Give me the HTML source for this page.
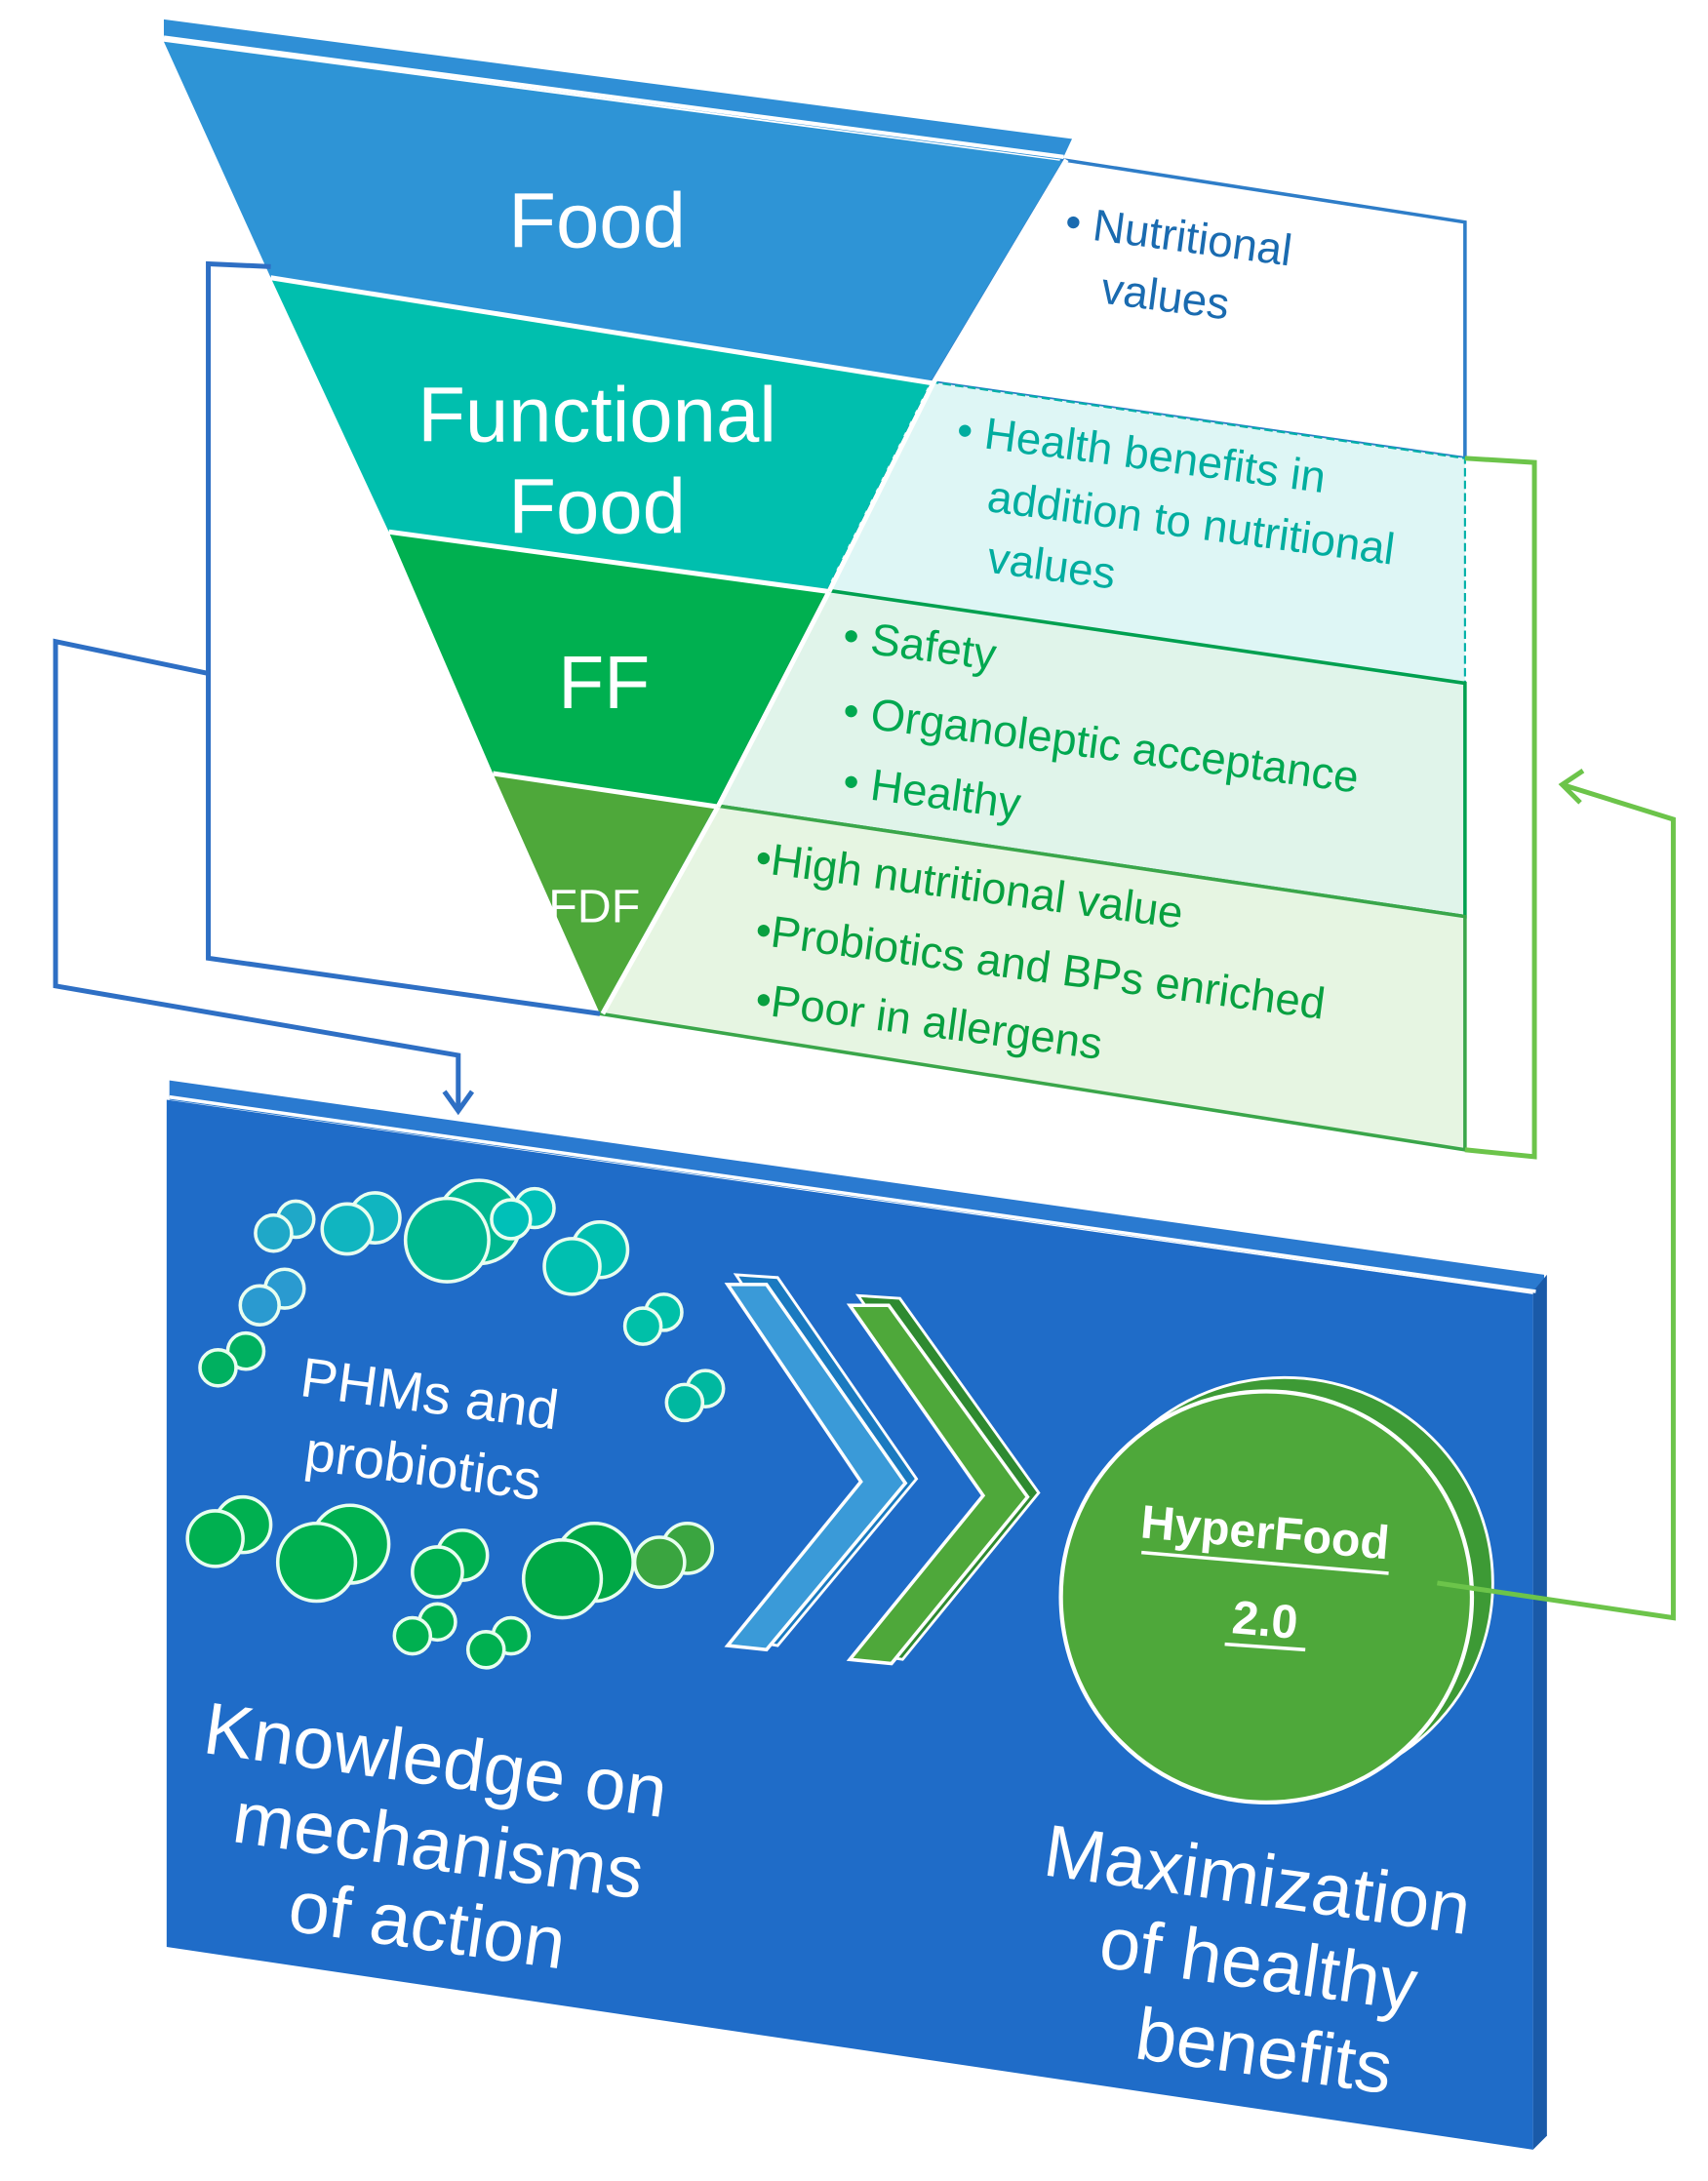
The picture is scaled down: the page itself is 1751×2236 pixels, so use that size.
<!DOCTYPE html>
<html><head><meta charset="utf-8"><style>
html,body{margin:0;padding:0;background:#fff;}
svg{display:block;}
text{font-family:"Liberation Sans",sans-serif;}
</style></head><body>
<svg width="1751" height="2236" viewBox="0 0 1230 1570.6" preserveAspectRatio="none" xmlns="http://www.w3.org/2000/svg">
<polygon points="765,115 1055,160 1055,330 670,275" fill="#ffffff" stroke="#2e7dc8" stroke-width="2.5"/>
<polygon points="670,275 1055,330 1055,492 595,425" fill="#def6f5" stroke="#00b0a8" stroke-width="1.5" stroke-dasharray="6,3"/>
<polygon points="595,425 1055,492 1055,660 515,580" fill="#e0f4ea" stroke="#00a050" stroke-width="2.5"/>
<polygon points="515,580 1055,660 1055,828 432,730" fill="#e6f5e2" stroke="#3aa64a" stroke-width="2.5"/>
<polygon points="118,14 772,100 765,115 118,28" fill="#2f8fd6"/>
<line x1="118" y1="27" x2="766" y2="113" stroke="#fff" stroke-width="3"/>
<polygon points="118,30 765,116 670,275 195,200" fill="#2e94d6"/>
<polygon points="195,200 670,275 595,425 280,383" fill="#00bfae"/>
<polygon points="280,383 595,425 515,580 355,557" fill="#00b050"/>
<polygon points="355,557 515,580 432,730" fill="#4ea83a"/>
<g stroke="#fff" stroke-width="3.5" fill="none">
<line x1="195" y1="200" x2="672" y2="276"/>
<line x1="280" y1="383" x2="597" y2="426"/>
<line x1="355" y1="557" x2="517" y2="581"/>
<line x1="768" y1="115" x2="672" y2="276"/>
<line x1="672" y1="276" x2="597" y2="426"/>
<line x1="597" y1="426" x2="517" y2="581"/>
<line x1="517" y1="581" x2="434" y2="730"/>
</g>
<g fill="#fff" text-anchor="middle">
<text x="430" y="178" font-size="56">Food</text>
<text x="430" y="318" font-size="56">Functional</text>
<text x="430" y="384" font-size="56">Food</text>
<text x="435" y="510" font-size="54">FF</text>
<text x="428" y="664" font-size="34">FDF</text>
</g>
<g font-size="32">
<g fill="#1a6bb0">
<text transform="translate(766,170) rotate(7.5)">• Nutritional</text>
<text transform="translate(792,218) rotate(7.5)">values</text>
</g>
<g fill="#00ad9f">
<text transform="translate(688,320) rotate(7.5)">• Health benefits in</text>
<text transform="translate(710,368) rotate(7.5)">addition to nutritional</text>
<text transform="translate(710,412) rotate(7.5)">values</text>
</g>
<g fill="#00a850">
<text transform="translate(606,468) rotate(7.5)">• Safety</text>
<text transform="translate(606,522) rotate(7.5)">• Organoleptic acceptance</text>
<text transform="translate(606,573) rotate(7.5)">• Healthy</text>
</g>
<g fill="#08a040">
<text transform="translate(543,628) rotate(7.5)">•High nutritional value</text>
<text transform="translate(543,680) rotate(7.5)">•Probiotics and BPs enriched</text>
<text transform="translate(543,730) rotate(7.5)">•Poor in allergens</text>
</g>
</g>
<g stroke="#2e6fc4" stroke-width="3.5" fill="none">
<polyline points="195,192 150,190 150,690 432,730"/>
<polyline points="150,485 40,462 40,710 330,760 330,798"/>
<polyline points="320,786 330,800 340,786"/>
</g>
<polygon points="122,778 1112,918 1112,932 122,792" fill="#2a7ad0"/>
<polygon points="1104,930 1114,918 1114,1538 1104,1548" fill="#1a5aa8"/>
<polygon points="120,792 1104,932 1104,1548 120,1402" fill="#1f6cc8"/>
<line x1="122" y1="790" x2="1106" y2="930" stroke="#fff" stroke-width="2.5"/>
<g stroke="#e8fff0" stroke-width="2.5">
<g fill="#1fa8c8"><circle cx="213" cy="878" r="13"/><circle cx="197" cy="888" r="13"/></g>
<g fill="#10b5c0"><circle cx="270" cy="877" r="18"/><circle cx="250" cy="885" r="18"/></g>
<g fill="#00b890"><circle cx="345" cy="880" r="30"/><circle cx="322" cy="893" r="30"/></g>
<g fill="#00c0b8"><circle cx="385" cy="870" r="14"/><circle cx="368" cy="878" r="14"/></g>
<g fill="#00bfb0"><circle cx="432" cy="900" r="20"/><circle cx="412" cy="912" r="20"/></g>
<g fill="#00c0a8"><circle cx="478" cy="945" r="13"/><circle cx="463" cy="955" r="13"/></g>
<g fill="#00b8a0"><circle cx="508" cy="1000" r="13"/><circle cx="493" cy="1010" r="13"/></g>
<g fill="#2a9ad0"><circle cx="205" cy="928" r="14"/><circle cx="187" cy="940" r="14"/></g>
<g fill="#00b060"><circle cx="177" cy="973" r="13"/><circle cx="157" cy="985" r="13"/></g>
<g fill="#00b050"><circle cx="175" cy="1098" r="20"/><circle cx="155" cy="1108" r="20"/></g>
<g fill="#00b050"><circle cx="252" cy="1112" r="28"/><circle cx="228" cy="1125" r="28"/></g>
<g fill="#00b050"><circle cx="333" cy="1120" r="18"/><circle cx="315" cy="1132" r="18"/></g>
<g fill="#00b050"><circle cx="315" cy="1168" r="13"/><circle cx="297" cy="1178" r="13"/></g>
<g fill="#00b050"><circle cx="368" cy="1178" r="13"/><circle cx="350" cy="1188" r="13"/></g>
<g fill="#00a845"><circle cx="428" cy="1125" r="28"/><circle cx="405" cy="1137" r="28"/></g>
<g fill="#3aa540"><circle cx="495" cy="1115" r="18"/><circle cx="475" cy="1125" r="18"/></g>
</g>
<g fill="#fff" font-size="40">
<text transform="translate(215,1005) rotate(7.5)">PHMs and</text>
<text transform="translate(218,1058) rotate(7.5)">probiotics</text>
</g>
<polygon points="530,918 560,920 660,1065 560,1185 530,1180 625,1062" fill="#1a7ac0" stroke="#fff" stroke-width="2"/>
<polygon points="524,925 552,925 652,1068 552,1188 524,1185 620,1067" fill="#3a9ad8" stroke="#fff" stroke-width="2.5"/>
<polygon points="618,933 648,935 748,1075 650,1195 618,1190 715,1072" fill="#2e8a30" stroke="#fff" stroke-width="2"/>
<polygon points="612,940 640,940 740,1078 642,1198 612,1195 708,1077" fill="#4ea83a" stroke="#fff" stroke-width="2.5"/>
<ellipse cx="925" cy="1140" rx="150" ry="148" fill="#3d9a35" stroke="#fff" stroke-width="2"/>
<ellipse cx="912" cy="1150" rx="148" ry="148" fill="#4ea83a" stroke="#fff" stroke-width="3"/>
<g fill="#fff" font-weight="bold" text-anchor="middle">
<text transform="translate(910,1115) rotate(5)" font-size="34">HyperFood</text>
<text transform="translate(910,1178) rotate(5)" font-size="34">2.0</text>
</g>
<line x1="822" y1="1118" x2="1000" y2="1133" stroke="#fff" stroke-width="2.5"/>
<line x1="882" y1="1184" x2="940" y2="1188" stroke="#fff" stroke-width="2.5"/>
<g fill="#fff" font-size="53">
<text transform="translate(145,1262) rotate(8)">Knowledge on</text>
<text transform="translate(166,1326) rotate(8)">mechanisms</text>
<text transform="translate(206,1390) rotate(8)">of action</text>
<text transform="translate(750,1350) rotate(8)">Maximization</text>
<text transform="translate(790,1416) rotate(8)">of healthy</text>
<text transform="translate(816,1482) rotate(8)">benefits</text>
</g>
<g stroke="#6cc44a" stroke-width="3.5" fill="none">
<polyline points="1055,330 1105,333 1105,833 1055,828"/>
<polyline points="1035,1140 1205,1165 1205,590 1125,565"/>
<polyline points="1140,555 1125,565 1138,578"/>
</g>
</svg>
</body></html>
